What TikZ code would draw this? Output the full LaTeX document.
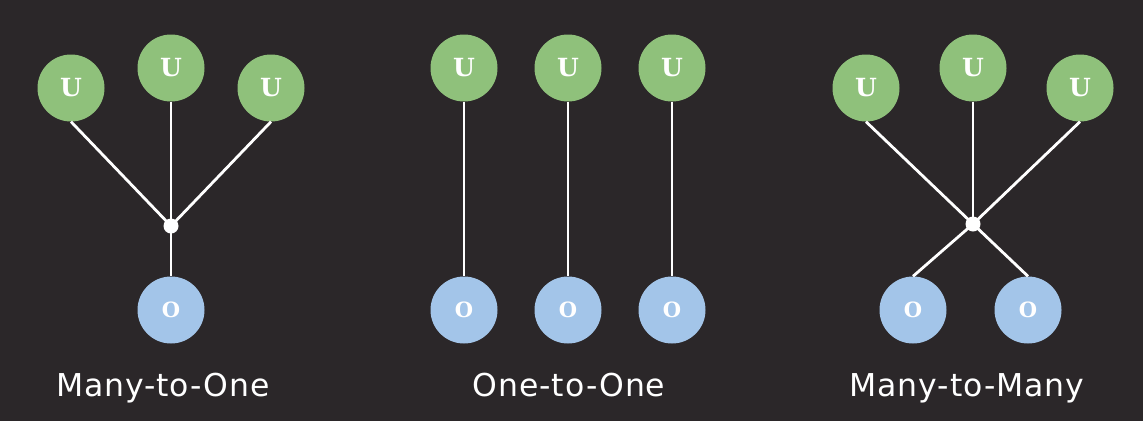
\documentclass[tikz,border=0pt]{standalone}
\usepackage{fontspec}
\setmainfont{DejaVu Serif}
\newfontfamily\labelfont[LetterSpace=3]{DejaVu Sans}
\definecolor{bgc}{HTML}{2B2729}
\definecolor{ugreen}{HTML}{8FC17B}
\definecolor{oblue}{HTML}{A3C5E9}
\tikzset{
  ucirc/.style={circle, fill=ugreen, minimum size=67pt, inner sep=0pt, text=white, font=\fontsize{25}{25}\selectfont\bfseries},
  ocirc/.style={circle, fill=oblue, minimum size=67pt, inner sep=0pt, text=white, font=\fontsize{21}{21}\selectfont\bfseries},
  jdot/.style={circle, fill=white, minimum size=15pt, inner sep=0pt},
  link/.style={draw=white, line width=2.8pt},
  caption/.style={anchor=base, text=white, font=\fontsize{31.5}{31.5}\labelfont}
}
\begin{document}
\begin{tikzpicture}[x=1pt,y=-1pt]
\fill[bgc] (0,0) rectangle (1143,421);
\useasboundingbox (0,0) rectangle (1143,421);
% Many-to-One
\node[ucirc] (a1) at (71,88) {U};
\node[ucirc] (a2) at (171,68) {U};
\node[ucirc] (a3) at (271,88) {U};
\coordinate (aj) at (171,226);
\node[ocirc] (ao) at (171,310) {O};
\draw[link] (a1.south) -- (aj);
\draw[link] (a2.south) -- (aj);
\draw[link] (a3.south) -- (aj);
\draw[link] (aj) -- (ao.north);
\node[jdot] (ajd) at (aj) {};
\node[caption] (ac) at (163,396) {Many-to-One};
% One-to-One
\node[ucirc] (b1) at (464,68) {U};
\node[ucirc] (b2) at (568,68) {U};
\node[ucirc] (b3) at (672,68) {U};
\node[ocirc] (bo1) at (464,310) {O};
\node[ocirc] (bo2) at (568,310) {O};
\node[ocirc] (bo3) at (672,310) {O};
\draw[link] (b1.south) -- (bo1.north);
\draw[link] (b2.south) -- (bo2.north);
\draw[link] (b3.south) -- (bo3.north);
\node[caption] (bc) at (569,396) {One-to-One};
% Many-to-Many
\node[ucirc] (c1) at (866,88) {U};
\node[ucirc] (c2) at (973,68) {U};
\node[ucirc] (c3) at (1080,88) {U};
\coordinate (cj) at (973,224);
\node[ocirc] (co1) at (913,310) {O};
\node[ocirc] (co2) at (1028,310) {O};
\draw[link] (c1.south) -- (cj);
\draw[link] (c2.south) -- (cj);
\draw[link] (c3.south) -- (cj);
\draw[link] (cj) -- (co1.north);
\draw[link] (cj) -- (co2.north);
\node[jdot] (cjd) at (cj) {};
\node[caption] (cc) at (967,396) {Many-to-Many};
\end{tikzpicture}
\end{document}
